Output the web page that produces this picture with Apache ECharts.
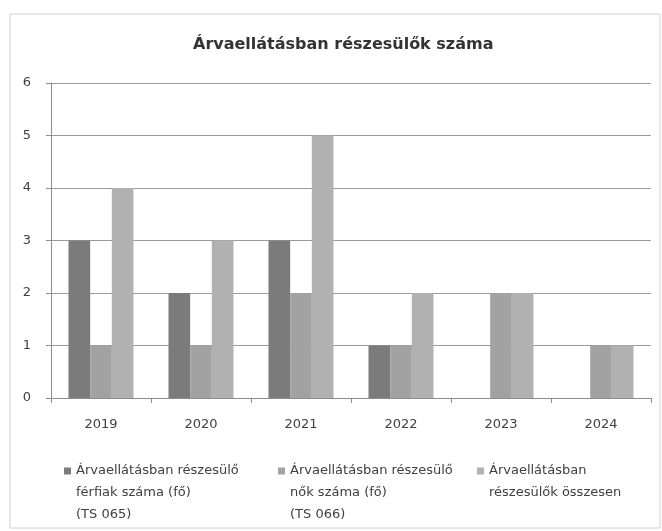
<!DOCTYPE html>
<html>
<head>
<meta charset="utf-8">
<script src="https://cdn.jsdelivr.net/npm/echarts@6/dist/echarts.min.js"></script>
<style>
  html, body { margin: 0; padding: 0; background: #fff; }
  #main { width: 662px; height: 531px; }
</style>
</head>
<body>
<div id="main"></div>
<script>
// adatok
var years = ['2019', '2020', '2021', '2022', '2023', '2024'];
var ferfiak = [3, 2, 3, 1, 0, 0];
var nok = [1, 1, 2, 1, 2, 1];
var osszesen = [4, 3, 5, 2, 2, 1];
var yTicks = [0, 1, 2, 3, 4, 5, 6];

var seriesNames = [
    'Árvaellátásban részesülő\nférfiak száma (fő)\n(TS 065)',
    'Árvaellátásban részesülő\nnők száma (fő)\n(TS 066)',
    'Árvaellátásban\nrészesülők összesen'
];
var colors = ['#7b7b7b', '#a2a2a2', '#b1b1b1'];

var font = '"DejaVu Sans", sans-serif';
var textColor = '#404040';

var chart = echarts.init(document.getElementById('main'));

// ikon: kis negyzet a doboz tetejen, hogy az elso sorhoz igazodjon
function legend(i, left, lines) {
    var lh = 22, sq = 7;
    var h = lines === 3 ? 2 * (lh + sq / 2) : lh + sq;
    var ratio = h / sq;
    return {
        left: left,
        top: 455,
        itemWidth: sq,
        itemHeight: h,
        itemGap: 0,
        icon: 'path://M0,0h1v1h-1z M0,' + ratio,
        data: [seriesNames[i]],
        textStyle: { fontFamily: font, fontSize: 13, color: textColor, lineHeight: lh },
        selectedMode: false
    };
}

var option = {
    backgroundColor: '#fff',
    animation: false,
    color: colors,
    title: {
        text: 'Árvaellátásban részesülők száma',
        left: 188,
        top: 32,
        textStyle: { fontFamily: font, fontSize: 16, fontWeight: 'bold', color: '#333' }
    },
    graphic: [{
        type: 'rect',
        shape: { x: 10, y: 14, width: 650, height: 514 },
        style: { fill: 'none', stroke: '#d0d0d0', lineWidth: 1 },
        silent: true
    }],
    legend: [
        legend(0, 59, 3),
        legend(1, 273, 3),
        legend(2, 472, 2)
    ],
    grid: { left: 51, right: 11, top: 83, bottom: 133 },
    xAxis: {
        type: 'category',
        data: years,
        axisLine: { lineStyle: { color: '#8c8c8c' } },
        axisTick: { show: true, length: 5, lineStyle: { color: '#8c8c8c' } },
        axisLabel: { fontFamily: font, fontSize: 13, color: textColor, margin: 20 }
    },
    yAxis: {
        type: 'value',
        min: yTicks[0],
        max: yTicks[yTicks.length - 1],
        interval: 1,
        axisLine: { show: true, lineStyle: { color: '#8c8c8c' } },
        axisTick: { show: true, length: 5, lineStyle: { color: '#8c8c8c' } },
        axisLabel: { fontFamily: font, fontSize: 13, color: textColor, margin: 20 },
        splitLine: { lineStyle: { color: '#9a9a9a' } }
    },
    series: [
        { name: seriesNames[0], type: 'bar', data: ferfiak, barGap: '0%', barCategoryGap: '35%' },
        { name: seriesNames[1], type: 'bar', data: nok, barGap: '0%', barCategoryGap: '35%' },
        { name: seriesNames[2], type: 'bar', data: osszesen, barGap: '0%', barCategoryGap: '35%' }
    ]
};

chart.setOption(option);
</script>
</body>
</html>
